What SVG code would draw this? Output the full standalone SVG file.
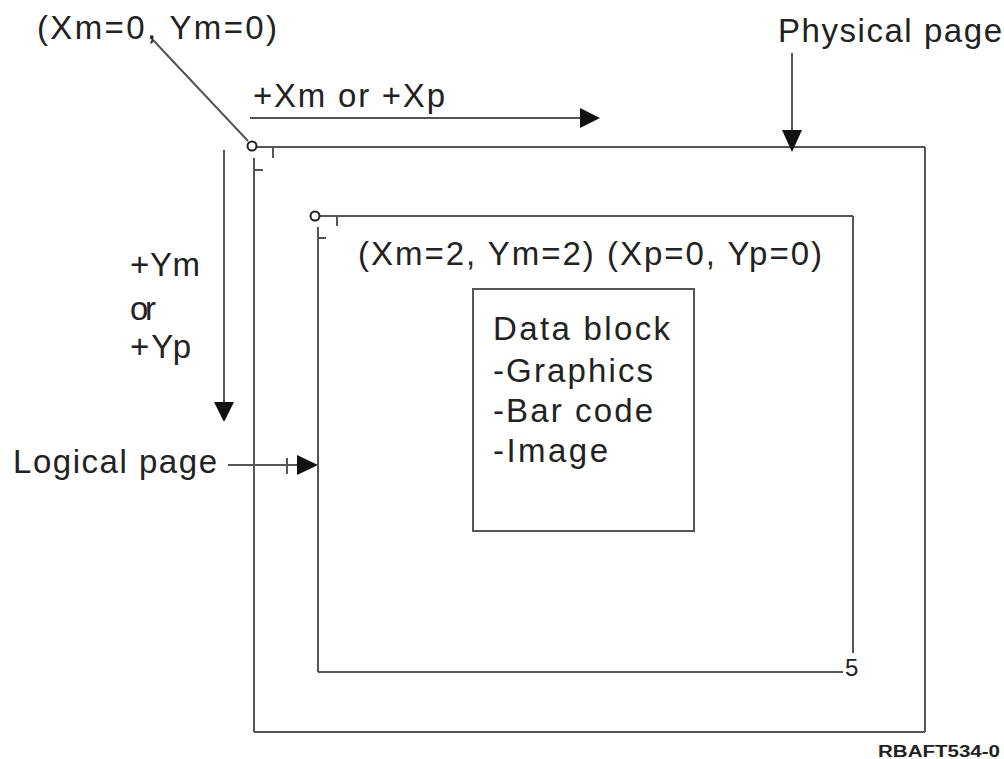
<svg xmlns="http://www.w3.org/2000/svg" width="1004" height="759" viewBox="0 0 1004 759">
<style>
.t{font-family:"Liberation Sans",Arial,sans-serif;font-size:33px;fill:#222}
.ln{stroke:#555;stroke-width:2;fill:none}
.ah{fill:#111}
.c{stroke:#222;stroke-width:2;fill:#fff}
</style>
<rect width="1004" height="759" fill="#fff"/>
<g id="physical-page">
<line class="ln" x1="257" y1="147" x2="925" y2="147"/>
<line class="ln" x1="925" y1="147" x2="925" y2="732"/>
<line class="ln" x1="254" y1="732" x2="925" y2="732"/>
<line class="ln" x1="254" y1="158" x2="254" y2="732"/>
<line class="ln" x1="273" y1="147" x2="273" y2="158"/>
<line class="ln" x1="254" y1="170" x2="263" y2="170"/>
<circle class="c" cx="252" cy="146" r="4.5"/>
</g>
<g id="logical-page">
<line class="ln" x1="320" y1="216" x2="853" y2="216"/>
<line class="ln" x1="853" y1="216" x2="853" y2="653"/>
<line class="ln" x1="318" y1="672" x2="843" y2="672"/>
<line class="ln" x1="318" y1="227" x2="318" y2="672"/>
<line class="ln" x1="337" y1="216" x2="337" y2="226"/>
<line class="ln" x1="318" y1="238" x2="326" y2="238"/>
<circle class="c" cx="315" cy="216" r="4.5"/>
<text class="t" x="845" y="676" style="font-size:24px">5</text>
<text class="t" x="358" y="265" textLength="464" lengthAdjust="spacing">(Xm=2, Ym=2) (Xp=0, Yp=0)</text>
</g>
<g id="data-block">
<rect class="ln" x="473" y="289" width="221" height="242"/>
<text class="t" x="493" y="340" textLength="177" lengthAdjust="spacing">Data block</text>
<text class="t" x="493" y="382" textLength="160" lengthAdjust="spacing">-Graphics</text>
<text class="t" x="493" y="422" textLength="160" lengthAdjust="spacing">-Bar code</text>
<text class="t" x="493" y="462" textLength="115" lengthAdjust="spacing">-Image</text>
</g>
<g id="connectors">
<line class="ln" x1="153" y1="40" x2="248" y2="141"/>
<line class="ln" x1="250" y1="118" x2="582" y2="118"/>
<polygon class="ah" points="580,108 600,118 580,128"/>
<line class="ln" x1="792" y1="53" x2="792" y2="132"/>
<polygon class="ah" points="782,130 802,130 792,152"/>
<line class="ln" x1="224" y1="150" x2="224" y2="405"/>
<polygon class="ah" points="214,402 234,402 224,422"/>
<line class="ln" x1="228" y1="465" x2="300" y2="465"/>
<line class="ln" x1="287" y1="458" x2="287" y2="474"/>
<polygon class="ah" points="297,455 318,465 297,475"/>
</g>
<g id="labels">
<text class="t" x="37" y="39" textLength="240" lengthAdjust="spacing">(Xm=0, Ym=0)</text>
<text class="t" x="778" y="42" textLength="224" lengthAdjust="spacing">Physical page</text>
<text class="t" x="253" y="107" textLength="192" lengthAdjust="spacing">+Xm or +Xp</text>
<text class="t" x="130" y="276" textLength="70" lengthAdjust="spacing">+Ym</text>
<text class="t" x="130" y="320" textLength="26" lengthAdjust="spacing">or</text>
<text class="t" x="130" y="358" textLength="61" lengthAdjust="spacing">+Yp</text>
<text class="t" x="13" y="473" textLength="204" lengthAdjust="spacing">Logical page</text>
<text class="t" x="878" y="757" textLength="122" lengthAdjust="spacingAndGlyphs" style="font-size:16px;font-weight:bold">RBAFT534-0</text>
</g>
</svg>
